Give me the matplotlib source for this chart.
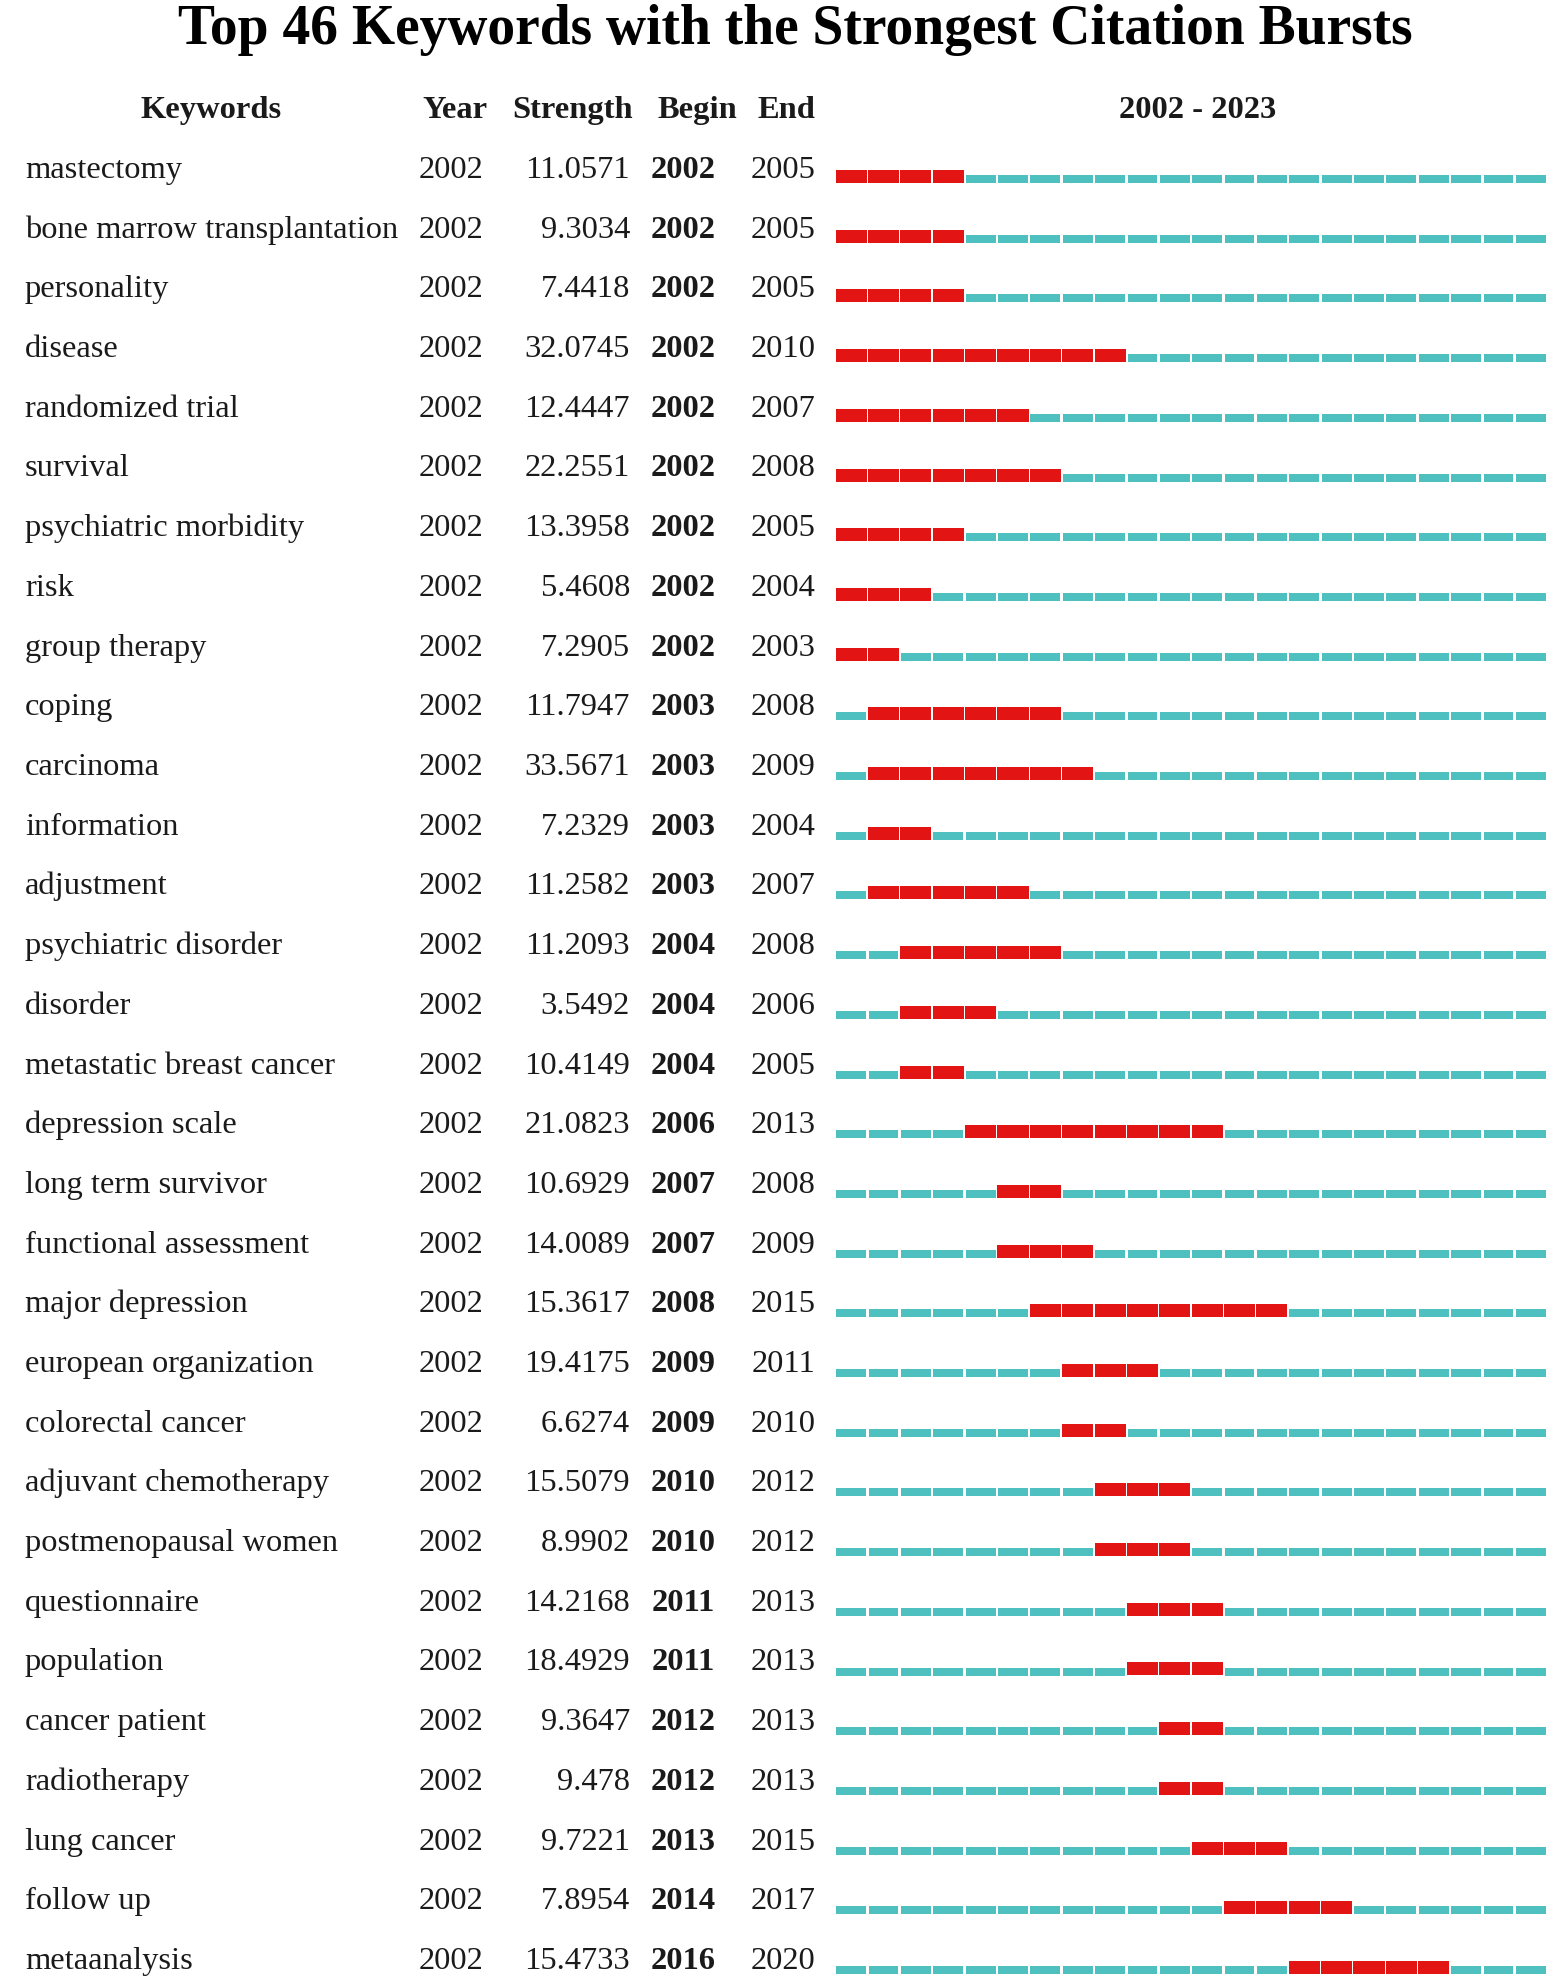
import matplotlib

matplotlib.use("Agg")
import matplotlib.pyplot as plt
from matplotlib.transforms import blended_transform_factory

keywords = [
    "mastectomy", "bone marrow transplantation", "personality", "disease",
    "randomized trial", "survival", "psychiatric morbidity", "risk",
    "group therapy", "coping", "carcinoma", "information", "adjustment",
    "psychiatric disorder", "disorder", "metastatic breast cancer",
    "depression scale", "long term survivor", "functional assessment",
    "major depression", "european organization", "colorectal cancer",
    "adjuvant chemotherapy", "postmenopausal women", "questionnaire",
    "population", "cancer patient", "radiotherapy", "lung cancer",
    "follow up", "metaanalysis",
]
first_year = [2002] * 31
strength = [
    11.0571, 9.3034, 7.4418, 32.0745, 12.4447, 22.2551, 13.3958, 5.4608,
    7.2905, 11.7947, 33.5671, 7.2329, 11.2582, 11.2093, 3.5492, 10.4149,
    21.0823, 10.6929, 14.0089, 15.3617, 19.4175, 6.6274, 15.5079, 8.9902,
    14.2168, 18.4929, 9.3647, 9.478, 9.7221, 7.8954, 15.4733,
]
begin = [
    2002, 2002, 2002, 2002, 2002, 2002, 2002, 2002, 2002, 2003, 2003, 2003,
    2003, 2004, 2004, 2004, 2006, 2007, 2007, 2008, 2009, 2009, 2010, 2010,
    2011, 2011, 2012, 2012, 2013, 2014, 2016,
]
end = [
    2005, 2005, 2005, 2010, 2007, 2008, 2005, 2004, 2003, 2008, 2009, 2004,
    2007, 2008, 2006, 2005, 2013, 2008, 2009, 2015, 2011, 2010, 2012, 2012,
    2013, 2013, 2013, 2013, 2015, 2017, 2020,
]
span_start, span_end = 2002, 2023
title = "Top 46 Keywords with the Strongest Citation Bursts"

RED = "#E31414"
CYAN = "#4EC0C0"
INK = "#1a1a1a"
FONT = ["Liberation Serif", "DejaVu Serif"]
plt.rcParams["font.family"] = FONT

W, H = 1559, 1987
fig = plt.figure(figsize=(W / 100, H / 100), dpi=100)

# bar area: row 0 centred at 176.5 px, row spacing 59.7 px
row0, pitch = 176.5, 59.7
ax = fig.add_axes([835 / W, 0, 712 / W, 1])
ax.set_xlim(span_start, span_end + 1)
ax.set_ylim(30 + (H - row0 - 30 * pitch) / pitch, -row0 / pitch)
ax.axis("off")

years = list(range(span_start, span_end + 1))
red_h, cyan_h = 13 / pitch, 8 / pitch
for i, (b, e) in enumerate(zip(begin, end)):
    for yr in years:
        if b <= yr <= e:
            ax.bar(yr + 0.5, red_h, bottom=i - red_h / 2, width=0.96,
                   color=RED, linewidth=0)
        else:
            c = i + 2.5 / pitch
            ax.bar(yr + 0.5, cyan_h, bottom=c - cyan_h / 2, width=0.92,
                   color=CYAN, linewidth=0)

tr = blended_transform_factory(fig.transFigure, ax.transData)
fs = 23.4
for i in range(len(keywords)):
    y = i + 1.5 / pitch
    ax.text(25 / W, y, keywords[i], transform=tr, fontsize=fs, color=INK,
            ha="left", va="baseline")
    ax.text(451.5 / W, y, str(first_year[i]), transform=tr, fontsize=fs,
            color=INK, ha="center", va="baseline")
    ax.text(630 / W, y, str(strength[i]), transform=tr, fontsize=fs,
            color=INK, ha="right", va="baseline")
    ax.text(683.5 / W, y, str(begin[i]), transform=tr, fontsize=fs,
            color=INK, ha="center", va="baseline", fontweight="bold")
    ax.text(783.5 / W, y, str(end[i]), transform=tr, fontsize=fs,
            color=INK, ha="center", va="baseline")

# header row
hy = 1 - 118 / H
headers = [("Keywords", 211), ("Year", 455), ("Strength", 573),
           ("Begin", 697), ("End", 786),
           (f"{span_start} - {span_end}", 1198)]
for label, xc in headers:
    fig.text(xc / W, hy, label, fontsize=fs, fontweight="bold", color=INK,
             ha="center", va="baseline")

fig.text(795 / W, 1 - 44 / H, title, fontsize=40, fontweight="bold",
         color="black", ha="center", va="baseline")

fig.savefig("out.png", dpi=100)
plt.close(fig)
